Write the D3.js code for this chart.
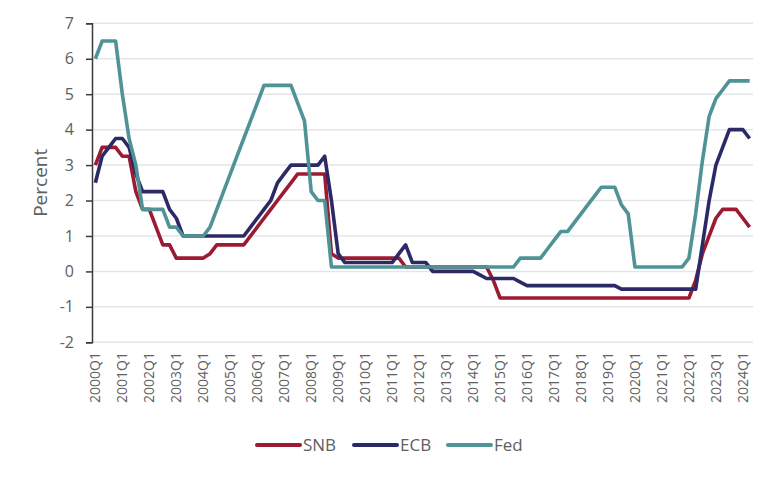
<!DOCTYPE html>
<html>
<head>
<meta charset="utf-8">
<script src="https://cdn.jsdelivr.net/npm/d3@7"></script>
<style>
  body { margin: 0; background: #fff; }
  svg { display: block; }
</style>
</head>
<body>
<div id="chart"></div>
<script>
// Quarterly policy rates, end of quarter, 2000Q1 - 2024Q2
const years = d3.range(2000, 2025);
const quarters = years.flatMap(y => [1, 2, 3, 4].map(q => `${y}Q${q}`)).slice(0, 98);

const snb = [
  3.0, 3.5, 3.5, 3.5,        // 2000
  3.25, 3.25, 2.25, 1.75,    // 2001
  1.75, 1.25, 0.75, 0.75,    // 2002
  0.375, 0.375, 0.375, 0.375,
  0.375, 0.5, 0.75, 0.75,    // 2004
  0.75, 0.75, 0.75, 1.0,
  1.25, 1.5, 1.75, 2.0,      // 2006
  2.25, 2.5, 2.75, 2.75,
  2.75, 2.75, 2.75, 0.5,     // 2008
  0.375, 0.375, 0.375, 0.375,
  0.375, 0.375, 0.375, 0.375, // 2010
  0.375, 0.375, 0.125, 0.125,
  0.125, 0.125, 0.125, 0.125, // 2012
  0.125, 0.125, 0.125, 0.125,
  0.125, 0.125, 0.125, -0.25, // 2014
  -0.75, -0.75, -0.75, -0.75,
  -0.75, -0.75, -0.75, -0.75, // 2016
  -0.75, -0.75, -0.75, -0.75,
  -0.75, -0.75, -0.75, -0.75, // 2018
  -0.75, -0.75, -0.75, -0.75,
  -0.75, -0.75, -0.75, -0.75, // 2020
  -0.75, -0.75, -0.75, -0.75,
  -0.75, -0.25, 0.5, 1.0,     // 2022
  1.5, 1.75, 1.75, 1.75,
  1.5, 1.25                   // 2024
];

const ecb = [
  2.5, 3.25, 3.5, 3.75,
  3.75, 3.5, 2.75, 2.25,
  2.25, 2.25, 2.25, 1.75,
  1.5, 1.0, 1.0, 1.0,
  1.0, 1.0, 1.0, 1.0,
  1.0, 1.0, 1.0, 1.25,
  1.5, 1.75, 2.0, 2.5,
  2.75, 3.0, 3.0, 3.0,
  3.0, 3.0, 3.25, 2.0,
  0.5, 0.25, 0.25, 0.25,
  0.25, 0.25, 0.25, 0.25,
  0.25, 0.5, 0.75, 0.25,
  0.25, 0.25, 0, 0,
  0, 0, 0, 0,
  0, -0.1, -0.2, -0.2,
  -0.2, -0.2, -0.2, -0.3,
  -0.4, -0.4, -0.4, -0.4,
  -0.4, -0.4, -0.4, -0.4,
  -0.4, -0.4, -0.4, -0.4,
  -0.4, -0.4, -0.5, -0.5,
  -0.5, -0.5, -0.5, -0.5,
  -0.5, -0.5, -0.5, -0.5,
  -0.5, -0.5, 0.75, 2.0,
  3.0, 3.5, 4.0, 4.0,
  4.0, 3.75
];

const fed = [
  6.0, 6.5, 6.5, 6.5,
  5.0, 3.75, 3.0, 1.75,
  1.75, 1.75, 1.75, 1.25,
  1.25, 1.0, 1.0, 1.0,
  1.0, 1.25, 1.75, 2.25,
  2.75, 3.25, 3.75, 4.25,
  4.75, 5.25, 5.25, 5.25,
  5.25, 5.25, 4.75, 4.25,
  2.25, 2.0, 2.0, 0.125,
  0.125, 0.125, 0.125, 0.125,
  0.125, 0.125, 0.125, 0.125,
  0.125, 0.125, 0.125, 0.125,
  0.125, 0.125, 0.125, 0.125,
  0.125, 0.125, 0.125, 0.125,
  0.125, 0.125, 0.125, 0.125,
  0.125, 0.125, 0.125, 0.375,
  0.375, 0.375, 0.375, 0.625,
  0.875, 1.125, 1.125, 1.375,
  1.625, 1.875, 2.125, 2.375,
  2.375, 2.375, 1.875, 1.625,
  0.125, 0.125, 0.125, 0.125,
  0.125, 0.125, 0.125, 0.125,
  0.375, 1.625, 3.125, 4.375,
  4.875, 5.125, 5.375, 5.375,
  5.375, 5.375
];

const yTicks = [-2, -1, 0, 1, 2, 3, 4, 5, 6, 7];
const series = [
  { name: 'SNB', values: snb, color: '#9c1b33' },
  { name: 'ECB', values: ecb, color: '#2b2a66' },
  { name: 'Fed', values: fed, color: '#4f9397' }
];

const W = 776, H = 477;
const FONT = "'Open Sans', 'Noto Sans', sans-serif";
const TXT = '#606060';

const svg = d3.select('#chart').append('svg').attr('width', W).attr('height', H);

const x = d3.scaleBand().domain(quarters).range([92, 753]);
const y = d3.scaleLinear().domain([-2, 7]).range([342.3, 23.3]);

// gridlines
svg.append('g').selectAll('line')
  .data(yTicks)
  .join('line')
  .attr('x1', 92).attr('x2', 753)
  .attr('y1', d => y(d)).attr('y2', d => y(d))
  .attr('stroke', '#e2e6e9').attr('stroke-width', 1.5);

// y axis
const yAxis = svg.append('g')
  .attr('transform', 'translate(92,0)')
  .call(d3.axisLeft(y).tickValues(yTicks).tickSize(6).tickPadding(12).tickFormat(d => String(d)));
yAxis.select('.domain').attr('stroke', '#3a3a3a').attr('stroke-width', 1.5);
yAxis.selectAll('.tick line').attr('stroke', '#3a3a3a').attr('stroke-width', 1.5);
yAxis.selectAll('.tick text')
  .attr('fill', TXT).attr('font-size', 16).attr('font-family', FONT);

svg.append('text')
  .attr('transform', `translate(47,${y(2.5)}) rotate(-90)`)
  .attr('text-anchor', 'middle')
  .attr('fill', TXT).attr('font-size', 19).attr('font-family', FONT)
  .text('Percent');

// x labels (first quarter of each year)
svg.append('g').selectAll('text')
  .data(quarters.filter(q => q.endsWith('Q1')))
  .join('text')
  .attr('transform', d => `translate(${x(d) + x.bandwidth() / 2},352) rotate(-90)`)
  .attr('text-anchor', 'end').attr('dy', '0.35em')
  .attr('fill', TXT).attr('font-size', 14).attr('font-family', FONT)
  .text(d => d);

// lines
const line = d3.line()
  .x((d, i) => x(quarters[i]) + x.bandwidth() / 2)
  .y(d => y(d));

svg.append('g').selectAll('path')
  .data(series)
  .join('path')
  .attr('d', d => line(d.values))
  .attr('fill', 'none')
  .attr('stroke', d => d.color)
  .attr('stroke-width', 3.6)
  .attr('stroke-linejoin', 'round');

// legend
const legendX = [257, 354, 448];
const lg = svg.append('g').selectAll('g')
  .data(series)
  .join('g')
  .attr('transform', (d, i) => `translate(${legendX[i]},445)`);
lg.append('line')
  .attr('x1', 0).attr('x2', 43)
  .attr('stroke', d => d.color).attr('stroke-width', 4).attr('stroke-linecap', 'round');
lg.append('text')
  .attr('x', 46).attr('dy', '0.35em')
  .attr('fill', TXT).attr('font-size', 17).attr('font-family', FONT)
  .text(d => d.name);
</script>
</body>
</html>
